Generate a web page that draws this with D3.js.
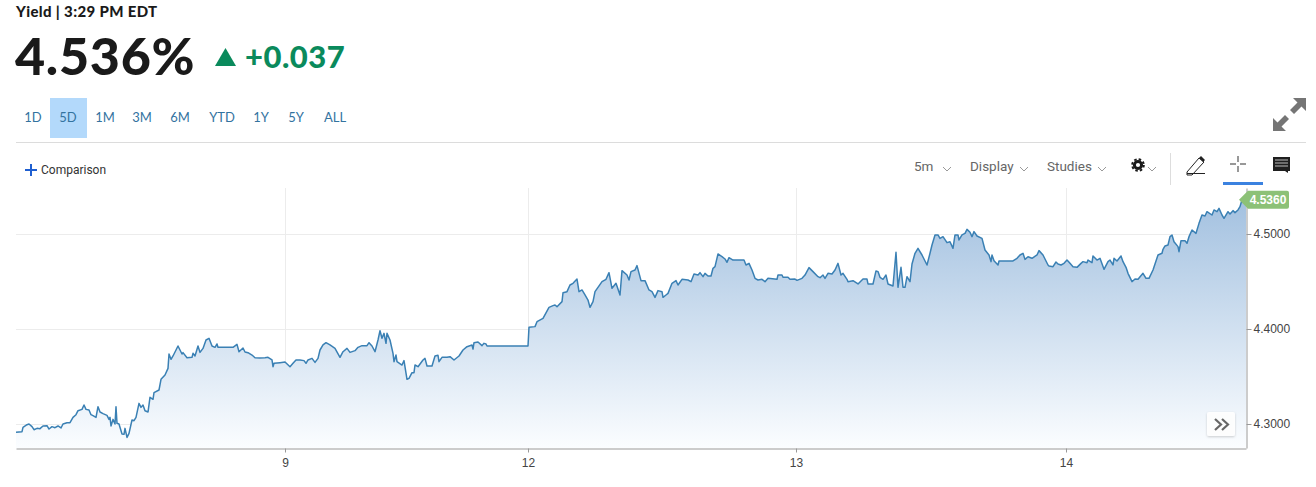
<!DOCTYPE html>
<html><head><meta charset="utf-8">
<script src="https://cdn.jsdelivr.net/npm/d3@7/dist/d3.min.js"></script>
<style>html,body{margin:0;padding:0;background:#fff;overflow:hidden}svg{display:block}</style>
</head><body><svg id="c" width="1316" height="487"></svg>
<script>
const bars=[0,6,7,11,13,16,18,21,24,27,31,33,36,39,42,45,47,51,54,57,60,62,66,68,70,73,75,77,80,82,84,87,91,93,94,95,97,99,100,101,103,106,108,109,111,113,116,118,120,123,125,127,129,132,134,137,138,143,145,149,152,153,155,157,162,166,167,171,176,177,179,182,184,187,190,193,196,199,201,202,217,221,223,227,229,232,236,239,244,249,252,256,257,258,264,269,274,277,280,
284,288,290,292,296,299,302,304,307,310,314,319,324,327,331,334,339,342,346,351,353,356,359,362,364,366,368,370,371,374,377,378,380,381,386,388,391,393,396,398,399,402,407,409,411,416,419,422,423,426,431,434,438,443,447,451,456,457,458,462,466,468,470,471,512,
513,519,521,527,533,537,539,541,546,547,551,554,557,561,563,566,569,572,574,577,579,586,590,593,596,600,604,606,611,613,615,619,621,625,629,633,636,639,642,646,647,650,652,656,660,662,666,672,675,678,682,684,687,689,692,695,697,699,702,706,709,711,713,717,728,730,733,736,739,742,746,749,752,761,762,766,767,772,774,779,781,786,789,793,797,802,
804,807,809,812,816,819,822,825,827,831,832,837,842,847,851,852,857,860,862,864,867,870,872,877,880,882,885,887,889,891,894,896,899,902,906,911,914,916,919,922,924,927,931,934,937,939,942,943,946,949,951,954,956,958,961,966,969,973,975,976,978,982,983,997,1001,1004,1007,1009,1012,1016,1021,1023,1027,1032,
1033,1037,1040,1042,1045,1048,1051,1054,1057,1061,1065,1067,1071,1072,1076,1077,1081,1084,1088,1092,1094,1097,1098,1101,1105,1107,1110,1112,1116,1119,1122,1127,1130,1133,1137,1142,1146,1147,1149,1152,1154,1156,1158,1162,1163,1165,1169,1171,1173,1176,1180,1183,1186,1189,1191,1196,1198,1201,1203,1206,1208,1212,1214,1217,1219,1222,1224,1226,1230];
const yields=[4.2912,4.2919,4.2965,4.2993,4.3000,4.2972,4.2940,4.2954,4.2951,4.2979,4.2982,4.2947,4.2972,4.2961,4.2979,4.2958,4.3000,4.3014,4.3014,4.3070,4.3098,4.3140,4.3154,4.3200,4.3154,4.3147,4.3098,4.3088,4.3070,4.3182,4.3126,4.3109,4.3091,4.3049,4.3070,4.2979,4.3049,4.3000,4.3182,4.3007,4.3000,4.2895,4.2891,4.2954,4.2859,4.2902,4.3042,4.3035,4.3070,4.3217,4.3175,4.3200,4.3140,4.3126,4.3281,4.3260,4.3330,4.3358,4.3470,4.3516,4.3586,4.3737,4.3681,4.3716,4.3821,4.3737,4.3751,4.3698,4.3702,4.3744,4.3716,4.3821,4.3754,4.3796,4.3884,4.3902,4.3821,4.3807,4.3842,4.3807,4.3807,4.3838,4.3761,4.3800,4.3758,4.3751,4.3726,4.3698,4.3695,4.3698,4.3702,4.3674,4.3603,4.3639,4.3646,4.3653,4.3603,4.3639,4.3674,
4.3674,4.3667,4.3639,4.3674,4.3691,4.3649,4.3691,4.3779,4.3832,4.3856,4.3832,4.3796,4.3702,4.3761,4.3796,4.3754,4.3772,4.3807,4.3825,4.3825,4.3856,4.3821,4.3761,4.3884,4.3982,4.3902,4.3954,4.3849,4.3954,4.3884,4.3744,4.3656,4.3726,4.3656,4.3621,4.3667,4.3470,4.3481,4.3540,4.3540,4.3621,4.3603,4.3674,4.3691,4.3611,4.3611,4.3716,4.3723,4.3656,4.3702,4.3702,4.3709,4.3674,4.3716,4.3779,4.3814,4.3832,4.3789,4.3856,4.3863,4.3825,4.3849,4.3842,4.3821,4.3821,
4.4018,4.4025,4.4077,4.4112,4.4228,4.4246,4.4253,4.4235,4.4288,4.4382,4.4393,4.4463,4.4481,4.4526,4.4393,4.4411,4.4358,4.4305,4.4228,4.4288,4.4393,4.4498,4.4523,4.4593,4.4428,4.4481,4.4358,4.4614,4.4568,4.4516,4.4604,4.4621,4.4667,4.4509,4.4509,4.4411,4.4393,4.4333,4.4404,4.4393,4.4333,4.4358,4.4375,4.4481,4.4509,4.4463,4.4523,4.4516,4.4498,4.4579,4.4568,4.4593,4.4551,4.4586,4.4558,4.4558,4.4639,4.4656,4.4790,4.4761,4.4737,4.4702,4.4751,4.4726,4.4726,4.4674,4.4691,4.4621,4.4533,4.4516,4.4523,4.4498,4.4533,4.4523,4.4568,4.4568,4.4544,4.4544,4.4523,4.4526,4.4512,4.4533,4.4568,4.4646,4.4604,4.4551,
4.4540,4.4568,4.4533,4.4586,4.4579,4.4621,4.4691,4.4568,4.4586,4.4523,4.4498,4.4509,4.4474,4.4526,4.4526,4.4474,4.4474,4.4611,4.4604,4.4544,4.4523,4.4568,4.4474,4.4453,4.4807,4.4439,4.4649,4.4439,4.4439,4.4551,4.4498,4.4684,4.4797,4.4849,4.4779,4.4674,4.4797,4.4884,4.4990,4.4990,4.4954,4.4972,4.4909,4.4919,4.4849,4.4990,4.4990,4.4937,4.4990,4.5007,4.5049,4.5018,4.4972,4.5025,4.4979,4.4954,4.4832,4.4779,4.4709,4.4779,4.4719,4.4674,4.4716,4.4716,4.4744,4.4779,4.4797,4.4733,4.4761,4.4744,4.4779,4.4825,4.4779,4.4674,
4.4663,4.4656,4.4705,4.4684,4.4674,4.4691,4.4726,4.4691,4.4656,4.4649,4.4691,4.4709,4.4698,4.4726,4.4698,4.4769,4.4726,4.4744,4.4628,4.4709,4.4726,4.4674,4.4744,4.4716,4.4769,4.4709,4.4649,4.4586,4.4498,4.4526,4.4523,4.4586,4.4533,4.4533,4.4621,4.4779,4.4797,4.4839,4.4874,4.4884,4.4972,4.4990,4.4919,4.4867,4.4814,4.4930,4.4930,4.4902,4.4972,4.5042,4.5007,4.5112,4.5200,4.5190,4.5235,4.5200,4.5253,4.5235,4.5270,4.5200,4.5165,4.5235,4.5211,4.5246,4.5225,4.5253,4.5288,4.5360,4.5360];
const dayTickBars=[269,512,780,1050];
const dayTickLabels=["9","12","13","14"];
const yieldTicks=[4.3,4.4,4.5];
const rangeLabels=["1D","5D","1M","3M","6M","YTD","1Y","5Y","ALL"];
const rangeCenters=[33,68,105,142,180,222,261,296,335];
const lastYield=4.536;

const UI='Lato,"Noto Sans",sans-serif', AX='"Liberation Sans",Arial,sans-serif';
const L=16,R=1246,T=188,B=448;
const svg=d3.select("#c");
const x=d3.scaleLinear().domain([0,1230]).range([L,R]);
const y=d3.scaleLinear().domain([4.3,4.5]).range([424,234]);
const data=bars.map((b,i)=>({b,v:yields[i]}));

const defs=svg.append("defs");
const g=defs.append("linearGradient").attr("id","fade").attr("gradientUnits","userSpaceOnUse").attr("x1",0).attr("x2",0).attr("y1",200).attr("y2",B);
g.append("stop").attr("offset",0).attr("stop-color","#a3c1e0");
g.append("stop").attr("offset",1).attr("stop-color","#fbfdff");
const sh=defs.append("filter").attr("id","sh").attr("x","-30%").attr("y","-30%").attr("width","160%").attr("height","160%");
sh.append("feDropShadow").attr("dx",0).attr("dy",1).attr("stdDeviation",1.2).attr("flood-color","#000").attr("flood-opacity",.2);

// header
const tx=(s,px,py,o={})=>svg.append("text").attr("x",px).attr("y",py).text(s)
  .attr("font-family",o.f||UI).attr("font-size",o.s||13).attr("font-weight",o.w||400)
  .attr("letter-spacing",o.ls||0).attr("fill",o.c||"#222").attr("text-anchor",o.a||"start");
tx("Yield | 3:29 PM EDT",16,17,{s:15,w:900,c:"#1a1a1a",ls:.35});
tx("4.536%",15,75,{s:52,w:900,c:"#1a1a1a",ls:.7});
svg.append("path").attr("d","M215 66 L225.500 48 L236 66 Z").attr("fill","#0a8a5c");
tx("+0.037",245,68,{s:31,w:900,c:"#0a8a5c",ls:.5});

// range buttons
svg.append("rect").attr("x",50).attr("y",98).attr("width",37).attr("height",40).attr("fill","#b3d9fb");
rangeLabels.forEach((r,i)=>tx(r,rangeCenters[i],122,{s:13,c:"#33739f",a:"middle"}));
svg.append("line").attr("x1",16).attr("x2",1306).attr("y1",142.5).attr("y2",142.5).attr("stroke","#dcdcdc");

// expand icon
const ex=svg.append("g").attr("fill","#757575");
ex.append("path").attr("d","M1306 98 L1306 111 L1301.500 106.500 L1294 114 L1290 110 L1297.500 102.500 L1293 98 Z");
ex.append("path").attr("d","M1273 131 L1273 118 L1277.500 122.500 L1285 115 L1289 119 L1281.500 126.500 L1286 131 Z");

// toolbar
svg.append("path").attr("d","M31 164 V176 M25 170 H37").attr("stroke","#1f5fd0").attr("stroke-width",2);
tx("Comparison",41,174,{f:"Roboto",s:12,c:"#333"});
const chev=(cx,cy)=>svg.append("path").attr("d",`M${cx-4} ${cy-2} L${cx} ${cy+2} L${cx+4} ${cy-2}`).attr("fill","none").attr("stroke","#999");
tx("5m",914,171,{f:"Roboto",s:13.500,c:"#666"}); chev(947,169);
tx("Display",970,171,{f:"Roboto",s:13.500,c:"#666"}); chev(1024,169);
tx("Studies",1047,171,{f:"Roboto",s:13.500,c:"#666"}); chev(1102,169);
svg.append("circle").attr("cx",1138).attr("cy",165).attr("r",3.6).attr("fill","none").attr("stroke","#1a1a1a").attr("stroke-width",3);
svg.append("circle").attr("cx",1138).attr("cy",165).attr("r",5.8).attr("fill","none").attr("stroke","#1a1a1a").attr("stroke-width",2).attr("stroke-dasharray","2.500 2.050");
chev(1152,169);
svg.append("line").attr("x1",1170.500).attr("x2",1170.500).attr("y1",153).attr("y2",185).attr("stroke","#ddd");
svg.append("path").attr("d","M1187 172 L1199 158 L1204 162 L1192 175 L1187 175 Z M1187 173.500 H1205").attr("fill","none").attr("stroke","#222");
svg.append("path").attr("d","M1201 156 L1205 160 L1203 162 L1199 158 Z").attr("fill","#222");
svg.append("path").attr("d","M1230 164 H1236 M1240 164 H1246 M1238 156 V162 M1238 166 V172").attr("stroke","#333").attr("stroke-width",1);
svg.append("rect").attr("x",1223).attr("y",182).attr("width",40).attr("height",3).attr("fill","#3b82e0");
svg.append("path").attr("d","M1273 157 H1290 V171 H1288 V173 L1285 171 H1273 Z").attr("fill","#1f1f1f");
svg.append("path").attr("d","M1275 160 H1288 M1275 163 H1288 M1275 166 H1288").attr("stroke","#fff").attr("stroke-width",.7);

// grid
svg.append("g").selectAll("line").data(yieldTicks).join("line")
  .attr("x1",L).attr("x2",R).attr("y1",d=>Math.round(y(d))+.5).attr("y2",d=>Math.round(y(d))+.5).attr("stroke","#ececec");
svg.append("g").selectAll("line").data(dayTickBars).join("line")
  .attr("x1",d=>x(d)+.5).attr("x2",d=>x(d)+.5).attr("y1",T).attr("y2",B).attr("stroke","#ececec");

// area + line
svg.append("path").datum(data).attr("fill","url(#fade)")
  .attr("d",d3.area().x(d=>x(d.b)).y0(B).y1(d=>y(d.v)));
svg.append("path").datum(data).attr("fill","none").attr("stroke","#3a80b4").attr("stroke-width",1.5).attr("stroke-linejoin","round")
  .attr("d",d3.line().x(d=>x(d.b)).y(d=>y(d.v)));

// axes
const ay=svg.append("g").attr("transform",`translate(${R+.5},0)`)
  .call(d3.axisRight(y.copy().domain([y.invert(B),y.invert(T)]).range([B,T])).tickValues(yieldTicks).tickSize(5).tickSizeOuter(0).tickPadding(2).tickFormat(d3.format(".4f")));
const ax=svg.append("g").attr("transform",`translate(0,${B+.5})`)
  .call(d3.axisBottom(x).tickValues(dayTickBars).tickSize(4).tickSizeOuter(0).tickPadding(6).tickFormat((d,i)=>dayTickLabels[i]));
[ay,ax].forEach(a=>{a.selectAll(".domain").attr("stroke","#999");a.selectAll(".tick line").attr("stroke","#999");
  a.selectAll("text").attr("font-family",AX).attr("font-size",12).attr("fill","#444");});

// last value tag
const ty=y(lastYield);
svg.append("path").attr("d",`M1239 ${ty} L1248 ${ty-9} H1287 Q1289 ${ty-9} 1289 ${ty-7} V${ty+7} Q1289 ${ty+9} 1287 ${ty+9} H1248 Z`).attr("fill","#8cc177");
tx(d3.format(".4f")(lastYield),1268,ty+4,{f:AX,s:12,w:700,c:"#fff",a:"middle"});

// scroll button
svg.append("rect").attr("x",1207).attr("y",412).attr("width",28).attr("height",24).attr("rx",2).attr("fill","#fff").attr("fill-opacity",.92).attr("filter","url(#sh)");
svg.append("path").attr("d","M1215 419 L1221 424.500 L1215 430 M1222 419 L1228 424.500 L1222 430").attr("fill","none").attr("stroke","#666").attr("stroke-width",2.2);
</script></body></html>
